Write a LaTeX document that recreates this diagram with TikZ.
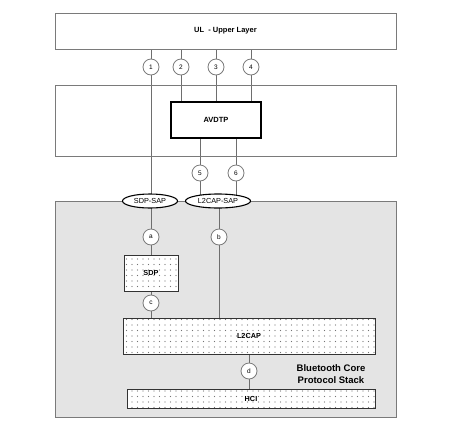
\documentclass[tikz,border=0pt]{standalone}
\usepackage{fontspec}
\setmainfont{Liberation Sans}
\usetikzlibrary{positioning, shapes.geometric, patterns.meta}
\definecolor{stackgray}{HTML}{E4E4E4}
\definecolor{edgegray}{HTML}{7A7A7A}
\definecolor{wiregray}{HTML}{6E6E6E}
\pgfdeclarelayer{bg}
\pgfdeclarelayer{wires}
\pgfsetlayers{bg,wires,main}

\tikzset{
  layer/.style={draw=edgegray, line width=1pt, inner sep=0pt},
  proto/.style={draw=black!80, line width=0.8pt, inner sep=0pt,
    font=\fontsize{7.3}{8}\selectfont\bfseries,
    preaction={fill=white},
    pattern={Dots[distance=5.5pt, radius=0.7pt]}, pattern color=black!55},
  sap/.style={ellipse, draw=black, line width=1.1pt, fill=white,
    inner sep=0pt, font=\fontsize{7.3}{8}\selectfont},
  port/.style={circle, draw=edgegray, line width=0.8pt, fill=white,
    minimum size=16pt, inner sep=0pt, font=\fontsize{6.5}{7}\selectfont},
  wire/.style={draw=wiregray, line width=0.9pt}
}

\begin{document}
\begin{tikzpicture}[x=1pt, y=-1pt]
  \useasboundingbox (0,0) rectangle (455,424);
  % oberste Schicht und A2DP-Block
  \node[layer, minimum width=341pt, minimum height=36pt,
    font=\fontsize{7.5}{8}\selectfont\bfseries] (ul) at (225.5,31) {UL\ \ - Upper Layer};
  \node[layer, minimum width=341pt, minimum height=71pt] (mid) at (225.5,120.5) {};
  \node[draw=black, line width=1.3pt, minimum width=90pt, minimum height=36pt,
    inner sep=0pt, font=\fontsize{7.5}{8}\selectfont\bfseries] (avdtp) at (216,120) {AVDTP};
  % grauer Kern-Stack
  \begin{pgfonlayer}{bg}
    \node[layer, fill=stackgray, minimum width=341pt, minimum height=216pt] (core) at (225.5,309) {};
  \end{pgfonlayer}
  \node[font=\fontsize{9.5}{12}\selectfont\bfseries, align=center] (coretxt) at (331,374)
    {Bluetooth Core\\Protocol Stack};
  % Zugangspunkte
  \node[sap, minimum width=55pt, minimum height=14pt] (sdpsap) at (150,201) {SDP-SAP};
  \node[sap, minimum width=65pt, minimum height=14pt] (l2sap) at (218,201) {L2CAP-SAP};
  % Protokolle
  \node[proto, minimum width=54pt, minimum height=36pt] (sdp) at (151,273) {SDP};
  \node[proto, minimum width=252pt, minimum height=36pt] (l2cap) at (249,336) {L2CAP};
  \node[proto, minimum width=248pt, minimum height=19pt] (hci) at (251,398.5) {HCI};
  % Schnittstellen
  \node[port] (p1) at (151,67) {1};
  \node[port] (p2) at (181,67) {2};
  \node[port] (p3) at (216,67) {3};
  \node[port] (p4) at (251,67) {4};
  \node[port] (p5) at (200,173) {5};
  \node[port] (p6) at (236,173) {6};
  \node[port] (pa) at (151,237) {a};
  \node[port] (pb) at (219,237) {b};
  \node[port] (pc) at (151,303) {c};
  \node[port] (pd) at (249,371) {d};
  % Leitungen
  \begin{pgfonlayer}{wires}
    \draw[wire] (ul.south -| p1) -- (sdpsap.center -| p1);
    \foreach \p in {p2,p3,p4}
      \draw[wire] (ul.south -| \p) -- (avdtp.north -| \p);
    \foreach \p in {p5,p6}
      \draw[wire] (avdtp.south -| \p) -- (l2sap.center -| \p);
    \draw[wire] (sdpsap.center -| pa) -- (sdp.north -| pa);
    \draw[wire] (l2sap.center -| pb) -- (l2cap.north -| pb);
    \draw[wire] (sdp.south -| pc) -- (l2cap.north -| pc);
    \draw[wire] (l2cap.south -| pd) -- (hci.north -| pd);
  \end{pgfonlayer}
\end{tikzpicture}
\end{document}
